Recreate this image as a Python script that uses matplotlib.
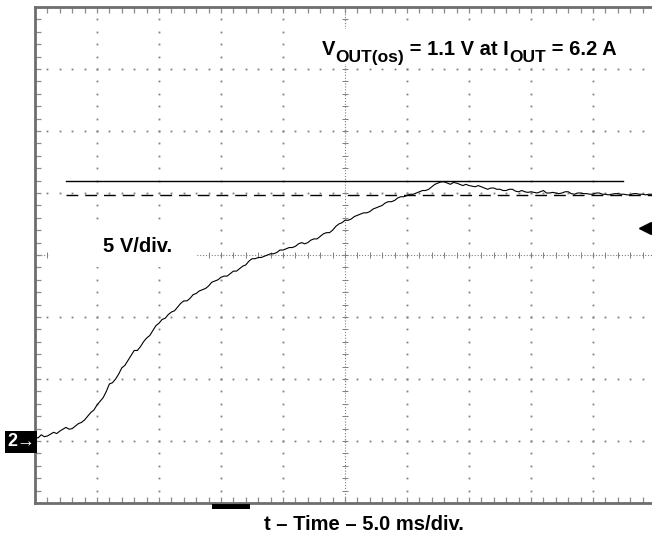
import numpy as np
import matplotlib
matplotlib.use("Agg")
import matplotlib.pyplot as plt
from matplotlib.patches import Rectangle

plt.rcParams['font.family'] = ['Liberation Sans', 'DejaVu Sans']

# scope settings: 5 ms/div, 5 V/div, 10 x 8 divisions, ground 1 div above bottom
t_div = 5.0
v_div = 5.0

# output voltage trace (V), one sample every 0.25 ms
vout = [0.3, 0.25, 0.5, 0.35, 0.4, 0.55, 0.7, 0.6, 0.8, 0.95, 1.1, 0.95, 1.0, 1.2, 1.4, 1.5, 1.7, 2.0, 2.3, 2.5, 2.9,
        3.2, 3.5, 4.0, 4.6, 4.7, 5.0, 5.4, 5.9, 6.1, 6.5, 6.9, 7.3, 7.3, 7.6, 8.0, 8.3, 8.5, 8.9, 9.3, 9.5,
        9.8, 9.9, 10.2, 10.4, 10.5, 10.8, 11.1, 11.3, 11.3, 11.5, 11.8, 11.9, 12.1, 12.2, 12.3, 12.5, 12.8, 12.9, 13.0, 13.2,
        13.3, 13.3, 13.5, 13.7, 13.7, 13.9, 14.1, 14.2, 14.5, 14.7, 14.7, 14.8, 14.8, 14.9, 15.0, 15.1, 15.1, 15.2, 15.4, 15.4,
        15.5, 15.6, 15.6, 15.7, 15.9, 16.0, 15.9, 16.0, 16.2, 16.3, 16.3, 16.5, 16.7, 16.8, 16.8, 17.0, 17.3, 17.5, 17.6, 17.8,
        17.8, 17.9, 18.1, 18.2, 18.3, 18.4, 18.4, 18.5, 18.7, 18.8, 18.9, 19.0, 19.2, 19.3, 19.3, 19.4, 19.6, 19.7, 19.7, 19.8,
        19.9, 19.9, 20.0, 20.1, 20.2, 20.2, 20.3, 20.5, 20.7, 20.8, 20.9, 20.9, 20.8, 20.7, 20.85, 20.8, 20.7, 20.6, 20.7, 20.6,
        20.55, 20.5, 20.6, 20.5, 20.4, 20.3, 20.4, 20.4, 20.3, 20.3, 20.2, 20.2, 20.3, 20.3, 20.15, 20.1, 20.2, 20.1, 20.05, 20.1,
        20.05, 20.0, 20.1, 20.2, 20.0, 20.0, 20.05, 20.0, 19.95, 20.0, 20.1, 20.1, 19.95, 19.9, 20.0, 20.0, 19.95, 19.95, 19.9, 19.9,
        20.0, 20.0, 19.9, 19.9, 19.85, 19.9, 19.95, 19.95, 19.9, 19.9, 19.85, 19.85, 19.95, 19.95, 19.9, 19.9, 19.85, 19.9, 19.9, 19.85]
t_ms = np.linspace(0, 50, len(vout))

# cursor lines
peak_level = 20.97
final_level = 19.84
cursor_start = 2.5
peak_end = 47.4
trigger_level = 17.2

fig = plt.figure(figsize=(6.52, 5.35), dpi=100)
ax = fig.add_axes([35 / 652, 32 / 535, 620 / 652, 496 / 535])
ax.set_xlim(0, 10 * t_div)
ax.set_ylim(-v_div, 7 * v_div)

gc = '#808080'
# graticule: dotted division lines
tx = np.arange(0, 10 * t_div + 0.01, t_div / 5)
vy = np.arange(-v_div, 7 * v_div + 0.01, v_div / 5)
for k in range(1, 10):
    if k == 5:
        continue
    ax.plot(np.full(len(vy) - 2, k * t_div), vy[1:-1], ls='none', marker='s',
            ms=1.3, mew=0, color=gc, zorder=1)
for k in range(0, 7):
    if k == 3:
        continue
    v0 = -v_div + (k + 1) * v_div
    ax.plot(tx[1:-1], np.full(len(tx) - 2, v0), ls='none', marker='s',
            ms=1.3, mew=0, color=gc, zorder=1)

# center cross lines with minor ticks
tc, vc = 5 * t_div, 3 * v_div
ax.axvline(tc, color=gc, lw=0.8, ls=(0, (1, 1.6)), zorder=1)
ax.axhline(vc, color=gc, lw=0.8, ls=(0, (1, 1.6)), zorder=1)
ax.plot(np.full(len(vy), tc), vy, ls='none', marker='_', ms=5, mew=0.7,
        color=gc, zorder=1)
ax.plot(tx, np.full(len(tx), vc), ls='none', marker='|', ms=5, mew=0.7,
        color=gc, zorder=1)

# edge ticks
ax.set_xticks(np.arange(0, 51, t_div))
ax.set_xticks(tx, minor=True)
ax.set_yticks(np.arange(-v_div, 36, v_div))
ax.set_yticks(vy, minor=True)
ax.tick_params(which='both', direction='in', length=4, width=0.9, color='#8c8c8c',
               top=True, bottom=True, left=True, right=False,
               labelbottom=False, labelleft=False)
for s in ['left', 'top', 'bottom']:
    ax.spines[s].set_color('#6e6e6e')
    ax.spines[s].set_linewidth(2)
ax.spines['right'].set_visible(False)

# cursors
ax.plot([cursor_start, peak_end], [peak_level, peak_level], color='black', lw=1.0, zorder=3)
ax.plot([cursor_start, 10 * t_div], [final_level, final_level], color='black',
        lw=1.0, dashes=(8.5, 5), zorder=3)

# trace
ax.plot(t_ms, vout, color='black', lw=0.8, zorder=4)

# trigger marker on the right
ax.plot([49.2], [trigger_level], marker='<', ms=8, color='black', clip_on=False, zorder=5)
ax.plot([49.2, 50], [trigger_level, trigger_level], color='black', lw=1.2, clip_on=False, zorder=5)

# overshoot label, built from pieces so the subscripts keep their size
ax.add_patch(Rectangle((22.8, 30.4), 24.6, 2.8, fc='white', ec='none', zorder=2))
pieces = [("V", 14.5, 0), ("OUT(os)", 12.5, -5), (" = 1.1 V at I", 14.5, 0),
          ("OUT", 12.5, -5), (" = 6.2 A", 14.5, 0)]
label_y = 31.1
prev = ax.text(23.15, label_y, pieces[0][0], fontsize=pieces[0][1], fontweight='bold',
               ha='left', va='baseline', zorder=6)
for txt, size, dy in pieces[1:]:
    prev = ax.annotate(txt, xy=(1, label_y), xycoords=(prev, 'data'),
                       xytext=(0, dy), textcoords='offset points',
                       fontsize=size, fontweight='bold', ha='left', va='baseline', zorder=6)

ax.add_patch(Rectangle((1.2, 14.0), 11.9, 3.3, fc='white', ec='none', zorder=2))
ax.text(8.3, 15.65, "5 V/div.", fontsize=14.5, fontweight='bold', ha='center',
        va='center', zorder=6)

fig.text(364 / 652, 1 - 525 / 535, "t \u2013 Time \u2013 5.0 ms/div.", fontsize=14.5,
         fontweight='bold', ha='center', va='center')

# channel 2 ground marker
fig.text(21 / 652, 1 - 442 / 535, "2\u2192", fontsize=13, fontweight='bold',
         color='white', ha='center', va='center',
         bbox=dict(fc='black', ec='none', pad=1.5))

# clipped readout fragment below the screen
fig.patches.append(Rectangle((212 / 652, 1 - 509 / 535), 38 / 652, 5 / 535,
                             transform=fig.transFigure, fc='black', ec='none'))

fig.savefig("out.png", dpi=100)
